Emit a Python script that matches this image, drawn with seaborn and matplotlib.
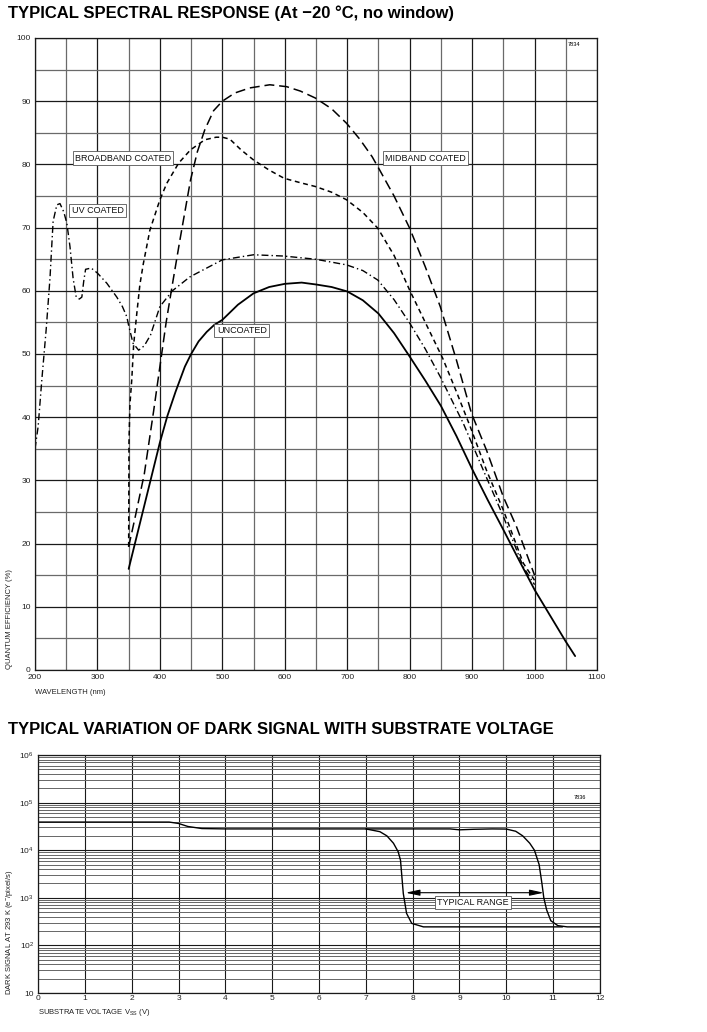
import numpy as np
import pandas as pd
import matplotlib
matplotlib.use("Agg")
import matplotlib.pyplot as plt
import seaborn as sns
from matplotlib.ticker import MultipleLocator, FixedLocator, NullFormatter

# ---------------- DATA: spectral response ----------------
wl_uncoated = [350, 360, 375, 390, 400, 412, 425, 440, 450, 462, 475, 487, 500, 525, 550, 575,
               600, 627, 650, 675, 700, 725, 750, 775, 800, 825, 850, 875, 900, 925, 950, 975,
               1000, 1025, 1050, 1065]
qe_uncoated = [16, 20, 26, 32, 36, 40.2, 44, 48, 50, 52.0, 53.5, 54.6, 55.4, 57.8, 59.6, 60.6,
               61.1, 61.3, 61.0, 60.6, 59.9, 58.5, 56.4, 53.3, 49.6, 45.8, 41.8, 37.0, 31.8,
               26.9, 22.2, 17.4, 12.7, 8.6, 4.5, 2.2]

wl_midband = [350, 360, 375, 390, 400, 410, 420, 432, 449, 460, 472, 486, 500, 520, 544, 576,
              603, 625, 649, 675, 699, 720, 740, 752, 775, 800, 825, 849, 875, 899, 923, 950,
              971, 1000]
qe_midband = [19.5, 24, 31, 41, 48, 55, 61, 68, 77.5, 82, 85.5, 88.5, 90, 91.3, 92.1, 92.6,
              92.3, 91.6, 90.5, 88.8, 86.5, 84, 81.2, 79.1, 75, 69.9, 63.8, 57.5, 49, 40.6, 34.8,
              27.4, 22.7, 15]

wl_broadband = [350, 350.5, 352, 355, 358, 363, 368, 373.5, 384, 400, 411, 430, 449, 472, 490,
                500, 512, 530, 550, 575, 599, 625, 649, 675, 699, 725, 749, 775, 800, 825, 853,
                875, 897, 923, 950, 982, 1000]
qe_broadband = [19.5, 36, 42, 46, 51.5, 56.4, 61, 64.3, 69.6, 74.4, 77, 80.2, 82.3, 83.9, 84.3,
                84.3, 84.0, 82.3, 80.7, 79.1, 77.8, 77.1, 76.5, 75.6, 74.4, 72.4, 69.9, 65.6, 60.1,
                55, 49.3, 44, 38.5, 31.6, 25.3, 16.9, 14.2]

wl_uv = [200, 205, 211, 218, 224, 229, 235, 240, 246, 251, 256, 261, 266, 271, 275, 278, 281,
         290, 300, 315, 331, 340, 347, 350, 357, 366, 375, 385, 400, 420, 448, 500, 550, 598,
         649, 699, 725, 749, 775, 800, 825, 849, 870, 886, 918, 950, 982, 1000]
qe_uv = [35, 38.5, 46, 54, 62, 71, 73.6, 73.8, 72.5, 70.7, 67, 62, 59, 58.7, 59, 61.5, 63.4,
         63.6, 62.8, 61.2, 59, 57.5, 55.9, 54.5, 51.7, 50.6, 51.3, 53, 57.5, 60, 62.2, 64.9, 65.7,
         65.5, 65.0, 64.1, 63.2, 61.7, 58.6, 54.9, 50.8, 46.4, 42.2, 39, 31.6, 24.3, 16.3, 13.5]

# ---------------- DATA: dark signal ----------------
v_upper = [0, 1, 2, 2.8, 3.0, 3.2, 3.5, 4, 5, 6, 7, 8, 8.8, 9.0, 9.3, 9.7, 10.0, 10.2, 10.35,
           10.5, 10.6, 10.7, 10.76, 10.8, 10.86, 10.95, 11.1, 11.3, 12]
d_upper = [39000, 39000, 39000, 39000, 36500, 31500, 28500, 28000, 28000, 28000, 28000, 28000,
           28000, 26800, 27500, 28000, 27800, 25000, 20000, 14000, 10000, 5000, 2000, 1000, 560,
           330, 260, 245, 245]
v_lower = [7.0, 7.3, 7.45, 7.59, 7.69, 7.74, 7.77, 7.80, 7.87, 7.98, 8.23, 9, 10, 11.2]
d_lower = [28000, 24500, 20000, 14000, 9300, 6200, 2750, 1230, 470, 290, 245, 245, 245, 245]

range_v = [7.85, 10.8]
range_level = 1280

x_ticks_top = list(range(200, 1101, 100))
y_ticks_top = list(range(0, 101, 10))
x_ticks_bot = list(range(0, 13))
y_ticks_bot = [10, 100, 1000, 10000, 100000, 1000000]
y_ticklabels_bot = ["10", "10$^2$", "10$^3$", "10$^4$", "10$^5$", "10$^6$"]

# ---------------- STYLE ----------------
sns.set_theme(style="white")
plt.rcParams["font.family"] = ["Liberation Sans", "DejaVu Sans"]
plt.rcParams["mathtext.fontset"] = "custom"
plt.rcParams["mathtext.rm"] = "Liberation Sans"
plt.rcParams["mathtext.it"] = "Liberation Sans"
plt.rcParams["axes.unicode_minus"] = True
plt.rcParams["text.color"] = "black"
plt.rcParams["xtick.color"] = "black"
plt.rcParams["ytick.color"] = "black"
plt.rcParams["xtick.labelcolor"] = "#222222"
plt.rcParams["ytick.labelcolor"] = "#222222"

W, H = 707, 1032
fig = plt.figure(figsize=(W / 100, H / 100), dpi=100, facecolor="white")

# titles
fig.text(8 / W, 1 - 13 / H, "TYPICAL SPECTRAL RESPONSE (At \u221220 \u00b0C, no window)",
         fontsize=12, fontweight="bold", ha="left", va="center", color="black")
fig.text(8 / W, 1 - 730 / H, "TYPICAL VARIATION OF DARK SIGNAL WITH SUBSTRATE VOLTAGE",
         fontsize=12, fontweight="bold", ha="left", va="center", color="black")

# ---------------- TOP CHART ----------------
ax1 = fig.add_axes([35 / W, 1 - 670 / H, 562 / W, 632 / H])
ax1.set_xlim(200, 1100)
ax1.set_ylim(0, 100)
ax1.xaxis.set_major_locator(FixedLocator(x_ticks_top))
ax1.xaxis.set_minor_locator(MultipleLocator(50))
ax1.yaxis.set_major_locator(FixedLocator(y_ticks_top))
ax1.yaxis.set_minor_locator(MultipleLocator(5))
ax1.grid(which="major", color="#1a1a1a", lw=0.9)
ax1.grid(which="minor", color="#6a6a6a", lw=0.9)
ax1.set_axisbelow(True)
ax1.tick_params(which="both", length=0, labelsize=6, pad=3)
for s in ax1.spines.values():
    s.set_color("#1a1a1a")
    s.set_linewidth(0.9)

df_unc = pd.DataFrame({"wl": wl_uncoated, "qe": qe_uncoated})
df_mid = pd.DataFrame({"wl": wl_midband, "qe": qe_midband})
df_bb = pd.DataFrame({"wl": wl_broadband, "qe": qe_broadband})
df_uv = pd.DataFrame({"wl": wl_uv, "qe": qe_uv})

sns.lineplot(data=df_unc, x="wl", y="qe", ax=ax1, color="black", lw=1.3,
             estimator=None, sort=False)
sns.lineplot(data=df_mid, x="wl", y="qe", ax=ax1, color="black", lw=1.1,
             linestyle=(0, (6.5, 3.2)), estimator=None, sort=False)
sns.lineplot(data=df_bb, x="wl", y="qe", ax=ax1, color="black", lw=1.1,
             linestyle=(0, (3.2, 2.4)), estimator=None, sort=False)
sns.lineplot(data=df_uv, x="wl", y="qe", ax=ax1, color="black", lw=1.0,
             linestyle=(0, (5, 2.2, 1, 2.2)), estimator=None, sort=False)
ax1.set_xlabel("")
ax1.set_ylabel("")

box = dict(boxstyle="square,pad=0.25", fc="white", ec="#555555", lw=0.6)
lab_kw = dict(fontsize=6.5, ha="center", va="center", bbox=box, color="#111111")
ax1.text(341, 81.0, "BROADBAND COATED", **lab_kw)
ax1.text(300, 72.7, "UV COATED", **lab_kw)
ax1.text(825, 81.0, "MIDBAND COATED", **lab_kw)
ax1.text(531, 53.7, "UNCOATED", **lab_kw)
ax1.text(1063, 99.0, "7834", fontsize=4, ha="center", va="center")

fig.text(10 / W, 1 - 669 / H, "QUANTUM EFFICIENCY (%)", rotation=90, fontsize=5.5,
         ha="center", va="bottom", color="#222222")
fig.text(35 / W, 1 - 692 / H, "WAVELENGTH (nm)", fontsize=5.5, ha="left", va="center",
         color="#222222")

# ---------------- BOTTOM CHART ----------------
ax2 = fig.add_axes([38 / W, 1 - 993 / H, 562 / W, 238 / H])
ax2.set_yscale("log")
ax2.set_xlim(0, 12)
ax2.set_ylim(10, 1e6)
ax2.xaxis.set_major_locator(FixedLocator(x_ticks_bot))
ax2.yaxis.set_major_locator(FixedLocator(y_ticks_bot))
ax2.set_yticklabels(y_ticklabels_bot)
minor_y = [m * 10 ** e for e in range(1, 6) for m in range(2, 10)]
ax2.yaxis.set_minor_locator(FixedLocator(minor_y))
ax2.yaxis.set_minor_formatter(NullFormatter())
ax2.grid(which="major", axis="both", color="#1a1a1a", lw=0.8)
ax2.grid(which="minor", axis="y", color="#666666", lw=0.7)
ax2.set_axisbelow(True)
ax2.tick_params(which="both", length=0, labelsize=6, pad=3)
ax2.tick_params(axis="x", pad=1.5)
for s in ax2.spines.values():
    s.set_color("#1a1a1a")
    s.set_linewidth(0.9)

df_up = pd.DataFrame({"v": v_upper, "d": d_upper})
df_lo = pd.DataFrame({"v": v_lower, "d": d_lower})
sns.lineplot(data=df_up, x="v", y="d", ax=ax2, color="black", lw=1.0,
             estimator=None, sort=False)
sns.lineplot(data=df_lo, x="v", y="d", ax=ax2, color="black", lw=1.0,
             estimator=None, sort=False)
ax2.set_xlabel("")
ax2.set_ylabel("")

ax2.annotate("", xy=(range_v[0], range_level), xytext=(range_v[1], range_level),
             arrowprops=dict(arrowstyle="<|-|>,head_length=0.7,head_width=0.15",
                             color="black", lw=0.8, shrinkA=0, shrinkB=0))
ax2.text(9.29, 800, "TYPICAL RANGE", **lab_kw)
ax2.text(11.57, 1.3e5, "7836", fontsize=4, ha="center", va="center")

fig.text(10 / W, 1 - 995 / H, "DARK SIGNAL AT 293 K (e$^{-}$/pixel/s)", rotation=90,
         fontsize=5.5, ha="center", va="bottom", color="#222222")
fig.text(38 / W, 1 - 1013 / H, "SUBSTRATE VOLTAGE V$_{SS}$ (V)", fontsize=5.5,
         ha="left", va="center", color="#222222")

fig.savefig("out.png", dpi=100, facecolor="white")
